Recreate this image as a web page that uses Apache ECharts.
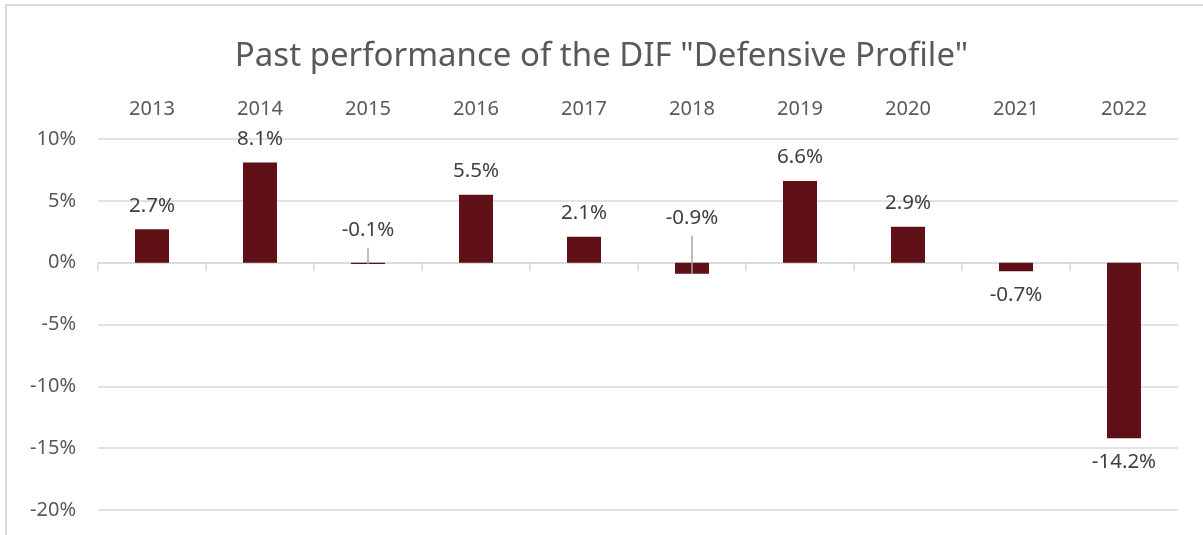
<!DOCTYPE html>
<html>
<head>
<meta charset="utf-8">
<script src="https://cdn.jsdelivr.net/npm/echarts@6/dist/echarts.min.js"></script>
<style>
  html, body { margin: 0; padding: 0; background: #fff; }
  #chart { width: 1203px; height: 535px; }
</style>
</head>
<body>
<div id="chart"></div>
<script>
const years = ['2013', '2014', '2015', '2016', '2017', '2018', '2019', '2020', '2021', '2022'];
const returns = [2.7, 8.1, -0.1, 5.5, 2.1, -0.9, 6.6, 2.9, -0.7, -14.2];
const yTicks = [-20, -15, -10, -5, 0, 5, 10];
const leaderYears = ['2015', '2018'];

const font = 'Noto Sans';
const barColor = '#5f0f16';
const leaderDist = { '2015': 22, '2018': 34 };

const gridTop = 139, gridBottom = 25, chartH = 535;
const yMin = yTicks[0], yMax = yTicks[yTicks.length - 1];
// shift the zero axis (line + ticks) up from the bottom of the grid
const zeroOffset = -(chartH - gridTop - gridBottom) * (0 - yMin) / (yMax - yMin);

// per-bar label settings
const barData = returns.map(function (v, i) {
    let label = { position: v >= 0 ? 'top' : 'bottom', distance: 13 };
    if (leaderYears.indexOf(years[i]) >= 0) {
        label = { position: 'top', distance: leaderDist[years[i]] };
    }
    return { value: v, label: label };
});

// leader lines for the moved labels
const leaderData = [];
returns.forEach(function (v, i) {
    if (leaderYears.indexOf(years[i]) >= 0) leaderData.push([i, v]);
});

const chart = echarts.init(document.getElementById('chart'));
const option = {
    animation: false,
    textStyle: { fontFamily: font },
    title: {
        text: 'Past performance of the DIF "Defensive Profile"',
        left: 'center',
        top: 35,
        textStyle: { fontFamily: font, fontSize: 33, fontWeight: 'normal', color: '#595959' }
    },
    graphic: [{
        type: 'polyline',
        shape: { points: [[6, 535], [6, 5], [1203, 5]] },
        style: { stroke: '#d9d9d9', lineWidth: 2, fill: null }
    }],
    grid: { left: 98, right: 25, top: gridTop, bottom: gridBottom },
    xAxis: [
        {
            type: 'category',
            data: years,
            position: 'top',
            axisLine: { show: false, onZero: false },
            axisTick: { show: false },
            axisLabel: { color: '#595959', fontSize: 20, margin: 20, fontFamily: font }
        },
        {
            type: 'category',
            data: years,
            position: 'bottom',
            offset: zeroOffset,
            axisLine: { onZero: false, lineStyle: { color: '#d9d9d9', width: 1.5 } },
            axisTick: { show: true, length: 8, lineStyle: { color: '#d9d9d9', width: 1.5 } },
            axisLabel: { show: false }
        }
    ],
    yAxis: {
        type: 'value',
        min: yMin,
        max: yMax,
        interval: 5,
        axisLine: { show: false },
        axisTick: { show: false },
        axisLabel: { color: '#595959', fontSize: 20, margin: 22, formatter: '{value}%', fontFamily: font },
        splitLine: { lineStyle: { color: '#d9d9d9', width: 1.5 } }
    },
    series: [
        {
            type: 'bar',
            data: barData,
            barWidth: 34,
            z: 3,
            itemStyle: { color: barColor },
            label: {
                show: true,
                color: '#404040',
                fontSize: 20.5,
                fontFamily: font,
                formatter: function (p) { return p.value.toFixed(1) + '%'; }
            }
        },
        {
            type: 'custom',
            data: leaderData,
            silent: true,
            z: 5,
            renderItem: function (params, api) {
                const i = api.value(0);
                const end = api.coord([i, api.value(1)]);
                const zero = api.coord([i, 0]);
                const top = zero[1] - (leaderDist[years[i]] - 7);
                return {
                    type: 'line',
                    shape: { x1: end[0], y1: end[1], x2: end[0], y2: top },
                    style: { stroke: '#a6a6a6', lineWidth: 1.5 }
                };
            }
        }
    ]
};
chart.setOption(option);
</script>
</body>
</html>
